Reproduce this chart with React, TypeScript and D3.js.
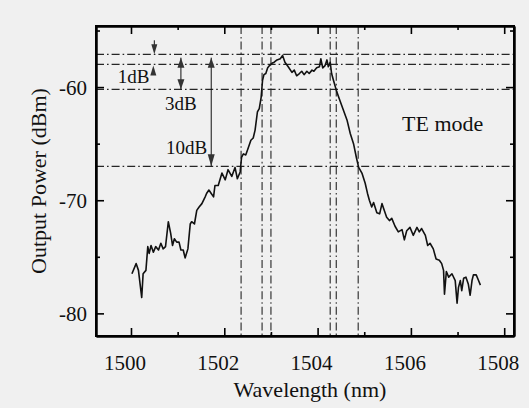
import React, { useEffect, useRef } from "react";
import * as d3 from "d3";

// ---- data ----
const wavelength = [
  1500.02, 1500.11, 1500.16, 1500.23, 1500.26, 1500.32, 1500.36, 1500.39, 1500.43, 1500.48,
  1500.53, 1500.59, 1500.64, 1500.69, 1500.74, 1500.8, 1500.85, 1500.89, 1500.93, 1500.98,
  1501.03, 1501.07, 1501.12, 1501.16, 1501.22, 1501.27, 1501.3, 1501.36, 1501.41, 1501.46,
  1501.52, 1501.59, 1501.62, 1501.67, 1501.72, 1501.77, 1501.8, 1501.87, 1501.95, 1502.02,
  1502.08, 1502.16, 1502.23, 1502.28, 1502.34, 1502.37, 1502.41, 1502.46, 1502.52, 1502.57,
  1502.62, 1502.66, 1502.71, 1502.75, 1502.79, 1502.82, 1502.85, 1502.89, 1502.93, 1502.97,
  1503.02, 1503.07, 1503.13, 1503.2, 1503.25, 1503.3, 1503.37, 1503.45, 1503.5, 1503.55,
  1503.61, 1503.66, 1503.71, 1503.77, 1503.82, 1503.88, 1503.92, 1503.98, 1504.04, 1504.07,
  1504.11, 1504.16, 1504.2, 1504.23, 1504.27, 1504.3, 1504.34, 1504.41, 1504.48, 1504.55,
  1504.63, 1504.7, 1504.77, 1504.83, 1504.88, 1504.95, 1505.02, 1505.07, 1505.11, 1505.16,
  1505.2, 1505.27, 1505.33, 1505.38, 1505.43, 1505.48, 1505.54, 1505.59, 1505.66, 1505.73,
  1505.81, 1505.86, 1505.91, 1505.98, 1506.05, 1506.13, 1506.18, 1506.23, 1506.31, 1506.36,
  1506.41, 1506.48, 1506.54, 1506.61, 1506.66, 1506.7, 1506.72, 1506.76, 1506.81, 1506.88,
  1506.95, 1506.99, 1507.02, 1507.06, 1507.09, 1507.13, 1507.18, 1507.23, 1507.27, 1507.31,
  1507.34, 1507.4, 1507.45, 1507.49,
];
const powerDbm = [
  -76.5, -75.6, -76.2, -78.6, -76.5, -76.2, -74.1, -74.7, -74.0, -74.6,
  -74.1, -74.4, -73.8, -74.3, -74.1, -71.9, -72.9, -74.0, -73.4, -73.7,
  -73.7, -74.4, -74.4, -75.1, -74.3, -72.1, -71.9, -72.1, -70.9, -70.6,
  -70.3, -69.7, -69.4, -69.1, -69.4, -69.7, -68.7, -68.7, -67.6, -68.2,
  -67.3, -67.9, -67.1, -68.1, -67.5, -66.2, -65.9, -66.0, -65.3, -64.7,
  -64.5, -63.8, -62.2, -61.9, -60.9, -59.4, -58.9, -58.8, -58.3, -58.1,
  -57.9, -57.8, -57.6, -57.5, -57.2, -57.8, -58.2, -58.7, -58.5, -59.0,
  -58.8, -58.6, -58.9, -58.6, -58.8, -58.5, -58.6, -58.3, -58.2, -57.5,
  -58.3, -58.1, -57.6, -58.2, -57.8, -58.8, -59.4, -60.4, -61.2, -62.0,
  -62.9, -64.1, -65.0, -66.2, -67.1, -67.6, -68.5, -69.4, -70.0, -70.6,
  -70.2, -71.1, -71.2, -70.3, -70.9, -71.5, -71.8, -71.6, -72.3, -72.8,
  -72.6, -73.5, -72.7, -72.4, -73.1, -72.4, -72.8, -72.5, -73.1, -74.0,
  -73.8, -74.3, -75.2, -75.3, -75.6, -76.2, -78.3, -76.3, -76.8, -76.5,
  -77.1, -79.1, -77.7, -77.1, -78.0, -76.9, -76.8, -77.4, -78.4, -77.1,
  -76.6, -76.6, -77.1, -77.5,
];

// reference levels (peak, -1dB, -3dB, -10dB) and bandwidth edges
const levelDbm = [-57.1, -58.0, -60.2, -67.0];
const edgeNm = [1502.36, 1502.81, 1503.0, 1504.27, 1504.4, 1504.87];

const xTickMajor = [1500, 1502, 1504, 1506, 1508];
const xTickMinor = [1501, 1503, 1505, 1507];
const yTickMajor = [-60, -70, -80];
const yTickMinor = [-55, -65, -75];

const xDomain = [1499.25, 1508.21];
const yDomain = [-82.0, -54.6];

const W = 529;
const H = 408;
const FONT = "'Liberation Serif', 'DejaVu Serif', serif";

export default function App() {
  const ref = useRef<SVGGElement | null>(null);
  const x = d3.scaleLinear().domain(xDomain).range([96, 514]);
  const y = d3.scaleLinear().domain(yDomain).range([336, 26]);
  const pl = x(xDomain[0]);
  const pr = x(xDomain[1]);
  const pb = y(yDomain[0]);
  const pt = y(yDomain[1]);

  useEffect(() => {
    if (!ref.current) return;
    const g = d3.select(ref.current);
    g.selectAll("*").remove();
    const fmt = () => "";
    const addAxis = (axis: any, tx: number, ty: number) => {
      const a = g.append("g").attr("transform", `translate(${tx},${ty})`).call(axis);
      a.selectAll("path.domain").attr("stroke", "#000").attr("stroke-width", 2);
      a.selectAll(".tick line").attr("stroke", "#000").attr("stroke-width", 1.6);
      a.selectAll("text").remove();
    };
    // major ticks (inward) on all four sides
    addAxis(d3.axisBottom(x).tickValues(xTickMajor).tickSize(-8).tickSizeOuter(0).tickFormat(fmt), 0, pb);
    addAxis(d3.axisTop(x).tickValues(xTickMajor).tickSize(-8).tickSizeOuter(0).tickFormat(fmt), 0, pt);
    addAxis(d3.axisLeft(y).tickValues(yTickMajor).tickSize(-8).tickSizeOuter(0).tickFormat(fmt), pl, 0);
    addAxis(d3.axisRight(y).tickValues(yTickMajor).tickSize(-8).tickSizeOuter(0).tickFormat(fmt), pr, 0);
    // minor ticks
    addAxis(d3.axisBottom(x).tickValues(xTickMinor).tickSize(-4).tickSizeOuter(0).tickFormat(fmt), 0, pb);
    addAxis(d3.axisTop(x).tickValues(xTickMinor).tickSize(-4).tickSizeOuter(0).tickFormat(fmt), 0, pt);
    addAxis(d3.axisLeft(y).tickValues(yTickMinor).tickSize(-4).tickSizeOuter(0).tickFormat(fmt), pl, 0);
    addAxis(d3.axisRight(y).tickValues(yTickMinor).tickSize(-4).tickSizeOuter(0).tickFormat(fmt), pr, 0);
  }, []);

  const pts: [number, number][] = wavelength.map((w, i) => [w, powerDbm[i]]);
  const line = d3
    .line<[number, number]>()
    .x((d) => x(d[0]))
    .y((d) => y(d[1]));

  const dash = "8 3 1.6 3";
  const ink = "#111111";

  const tri = (cx: number, tipY: number, dir: string, h: number, w: number) => {
    const b = dir === "down" ? tipY - h : tipY + h;
    return `M${cx},${tipY}L${cx - w / 2},${b}L${cx + w / 2},${b}Z`;
  };

  const a1x = x(1500.5);
  const a3x = x(1501.07);
  const a10x = x(1501.72);

  return (
    <svg width={W} height={H} style={{ position: "absolute", left: 0, top: 0 }}>
      <rect x={0} y={0} width={W} height={H} fill="#f0f0f0" />

      {/* reference lines */}
      {levelDbm.map((v, i) => (
        <path key={"h" + i} d={`M${pl},${y(v)}H${pr}`} stroke="#262626" strokeWidth={1.3} strokeDasharray={dash} fill="none" />
      ))}
      {edgeNm.map((v, i) => (
        <path key={"v" + i} d={`M${x(v)},${pt}V${pb}`} stroke="#262626" strokeWidth={1.1} strokeDasharray={dash} fill="none" />
      ))}

      {/* spectrum */}
      <path d={line(pts) || ""} fill="none" stroke={ink} strokeWidth={1.6} strokeLinejoin="round" />

      {/* frame (JSX) plus axes drawn by d3 */}
      <rect x={pl} y={pt} width={pr - pl} height={pb - pt} fill="none" stroke="#000000" strokeWidth={2} />
      <g ref={ref} />

      <g fontFamily={FONT} fill={ink}>
        {xTickMajor.map((t) => (
          <text key={"xl" + t} x={x(t) - 6} y={370} textAnchor="middle" fontSize={21}>
            {t}
          </text>
        ))}
        {yTickMajor.map((t) => (
          <text key={"yl" + t} x={87} y={y(t) + 8} textAnchor="end" fontSize={21}>
            {t}
          </text>
        ))}
        <text x={a1x - 5} y={83} textAnchor="end" fontSize={19}>
          1dB
        </text>
        <text x={a3x} y={110} textAnchor="middle" fontSize={19}>
          3dB
        </text>
        <text x={a10x - 4} y={154} textAnchor="end" fontSize={19}>
          10dB
        </text>
        <text x={402} y={131} fontSize={22}>
          TE mode
        </text>
        <text x={310} y={397} textAnchor="middle" fontSize={22}>
          Wavelength (nm)
        </text>
        <text transform={`translate(46,${(pb + pt) / 2}) rotate(-90)`} textAnchor="middle" fontSize={22}>
          Output Power (dBm)
        </text>
      </g>

      {/* 1dB annotation */}
      <path d={`M${a1x},${y(levelDbm[0]) - 14}V${y(levelDbm[0]) - 9}`} stroke={ink} strokeWidth={1} />
      <path d={tri(a1x, y(levelDbm[0]), "down", 10, 6)} fill="#333" />
      <path d={tri(a1x - 1, y(levelDbm[1]) + 1, "up", 10, 6)} fill="#333" />

      {/* 3dB annotation */}
      <path d={`M${a3x},${y(-57.4)}V${y(levelDbm[2])}`} stroke={ink} strokeWidth={1} />
      <path d={tri(a3x, y(-57.4), "up", 10, 7)} fill="#333" />
      <path d={tri(a3x, y(levelDbm[2]), "down", 10, 7)} fill="#333" />

      {/* 10dB annotation */}
      <path d={`M${a10x},${y(-57.4)}V${y(levelDbm[3])}`} stroke={ink} strokeWidth={1} />
      <path d={tri(a10x, y(-57.4), "up", 10, 7)} fill="#333" />
      <path d={tri(a10x, y(levelDbm[3]), "down", 12, 7)} fill="#333" />
    </svg>
  );
}
